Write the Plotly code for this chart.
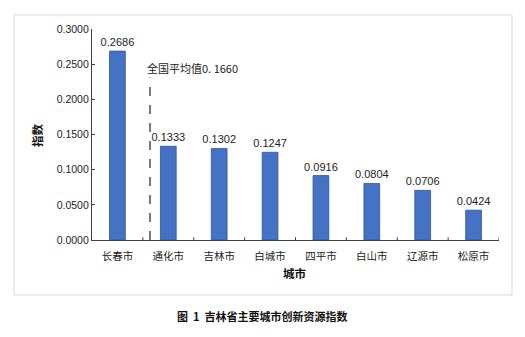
import plotly.graph_objects as go

cities = ["长春市", "通化市", "吉林市", "白城市", "四平市", "白山市", "辽源市", "松原市"]
values = [0.2686, 0.1333, 0.1302, 0.1247, 0.0916, 0.0804, 0.0706, 0.0424]
y_ticks = [0.0, 0.05, 0.10, 0.15, 0.20, 0.25, 0.30]
national_avg_label = "全国平均值0. 1660"

W, H = 525, 337
FONT = "Liberation Sans, Arial, Noto Sans CJK SC, sans-serif"
CJK = "Noto Sans CJK SC, sans-serif"

fig = go.Figure()
fig.add_trace(go.Bar(
    x=cities, y=values,
    marker=dict(color="#4472C4", line=dict(color="#2F5597", width=0.8)),
    width=0.31,
    text=[f"{v:.4f}" for v in values],
    textposition="outside",
    constraintext="none",
    textfont=dict(family=FONT, size=11, color="#222222"),
    cliponaxis=False,
))

fig.update_layout(
    template="none",
    width=W, height=H,
    margin=dict(l=0, r=0, t=0, b=0, autoexpand=False),
    paper_bgcolor="white", plot_bgcolor="white",
    showlegend=False,
    uniformtext=dict(minsize=11, mode="show"),
    xaxis=dict(
        domain=[92 / W, 499 / W],
        range=[-0.5, 7.5],
        automargin=False,
        showline=True, linecolor="#404040", linewidth=1.2,
        ticks="", ticklabelstandoff=6,
        tickfont=dict(family=CJK, size=10.5, color="#222222"),
        showgrid=False, zeroline=False,
    ),
    yaxis=dict(
        domain=[1 - 240 / H, 1 - 29 / H],
        range=[0, 0.3],
        automargin=False,
        tickvals=y_ticks,
        ticktext=[f"{v:.4f}" for v in y_ticks],
        showline=True, linecolor="#404040", linewidth=1.2,
        ticks="inside", ticklen=3, tickcolor="#404040",
        tickfont=dict(family=FONT, size=10.5, color="#222222"),
        showgrid=False, zeroline=False,
    ),
)

# inside tick marks between categories on the x axis
for i in range(8):
    fig.add_shape(type="line", xref="x", yref="y", x0=i + 0.5, x1=i + 0.5,
                  y0=0, y1=0.004, line=dict(color="#404040", width=1))

# national average dashed line and label
fig.add_shape(type="line", xref="x", yref="y", x0=0.64, x1=0.64, y0=0, y1=0.231,
              line=dict(color="#222222", width=1.2, dash="dash"))
fig.add_annotation(xref="x", yref="y", x=0.54, y=0.2446, text=national_avg_label,
                   showarrow=False, xanchor="left", yanchor="middle",
                   font=dict(family=CJK, size=11, color="#222222"))

# outer frame
fig.add_shape(type="rect", xref="paper", yref="paper",
              x0=14 / W, x1=512 / W, y0=1 - 295 / H, y1=1 - 15 / H,
              line=dict(color="#d9d9d9", width=1))

# axis titles
fig.add_annotation(xref="paper", yref="paper", x=37 / W, y=1 - 135 / H, text="<b>指数</b>",
                   textangle=-90, showarrow=False, xanchor="center", yanchor="middle",
                   font=dict(family=CJK, size=11.5, color="#111111"))
fig.add_annotation(xref="paper", yref="paper", x=295 / W, y=1 - 273 / H, text="<b>城市</b>",
                   showarrow=False, xanchor="center", yanchor="middle",
                   font=dict(family=CJK, size=11.5, color="#111111"))
# caption
fig.add_annotation(xref="paper", yref="paper", x=262 / W, y=1 - 316 / H,
                   text="<b>图  1  吉林省主要城市创新资源指数</b>",
                   showarrow=False, xanchor="center", yanchor="middle",
                   font=dict(family=CJK, size=11, color="#111111"))

fig.write_html("out.html")
